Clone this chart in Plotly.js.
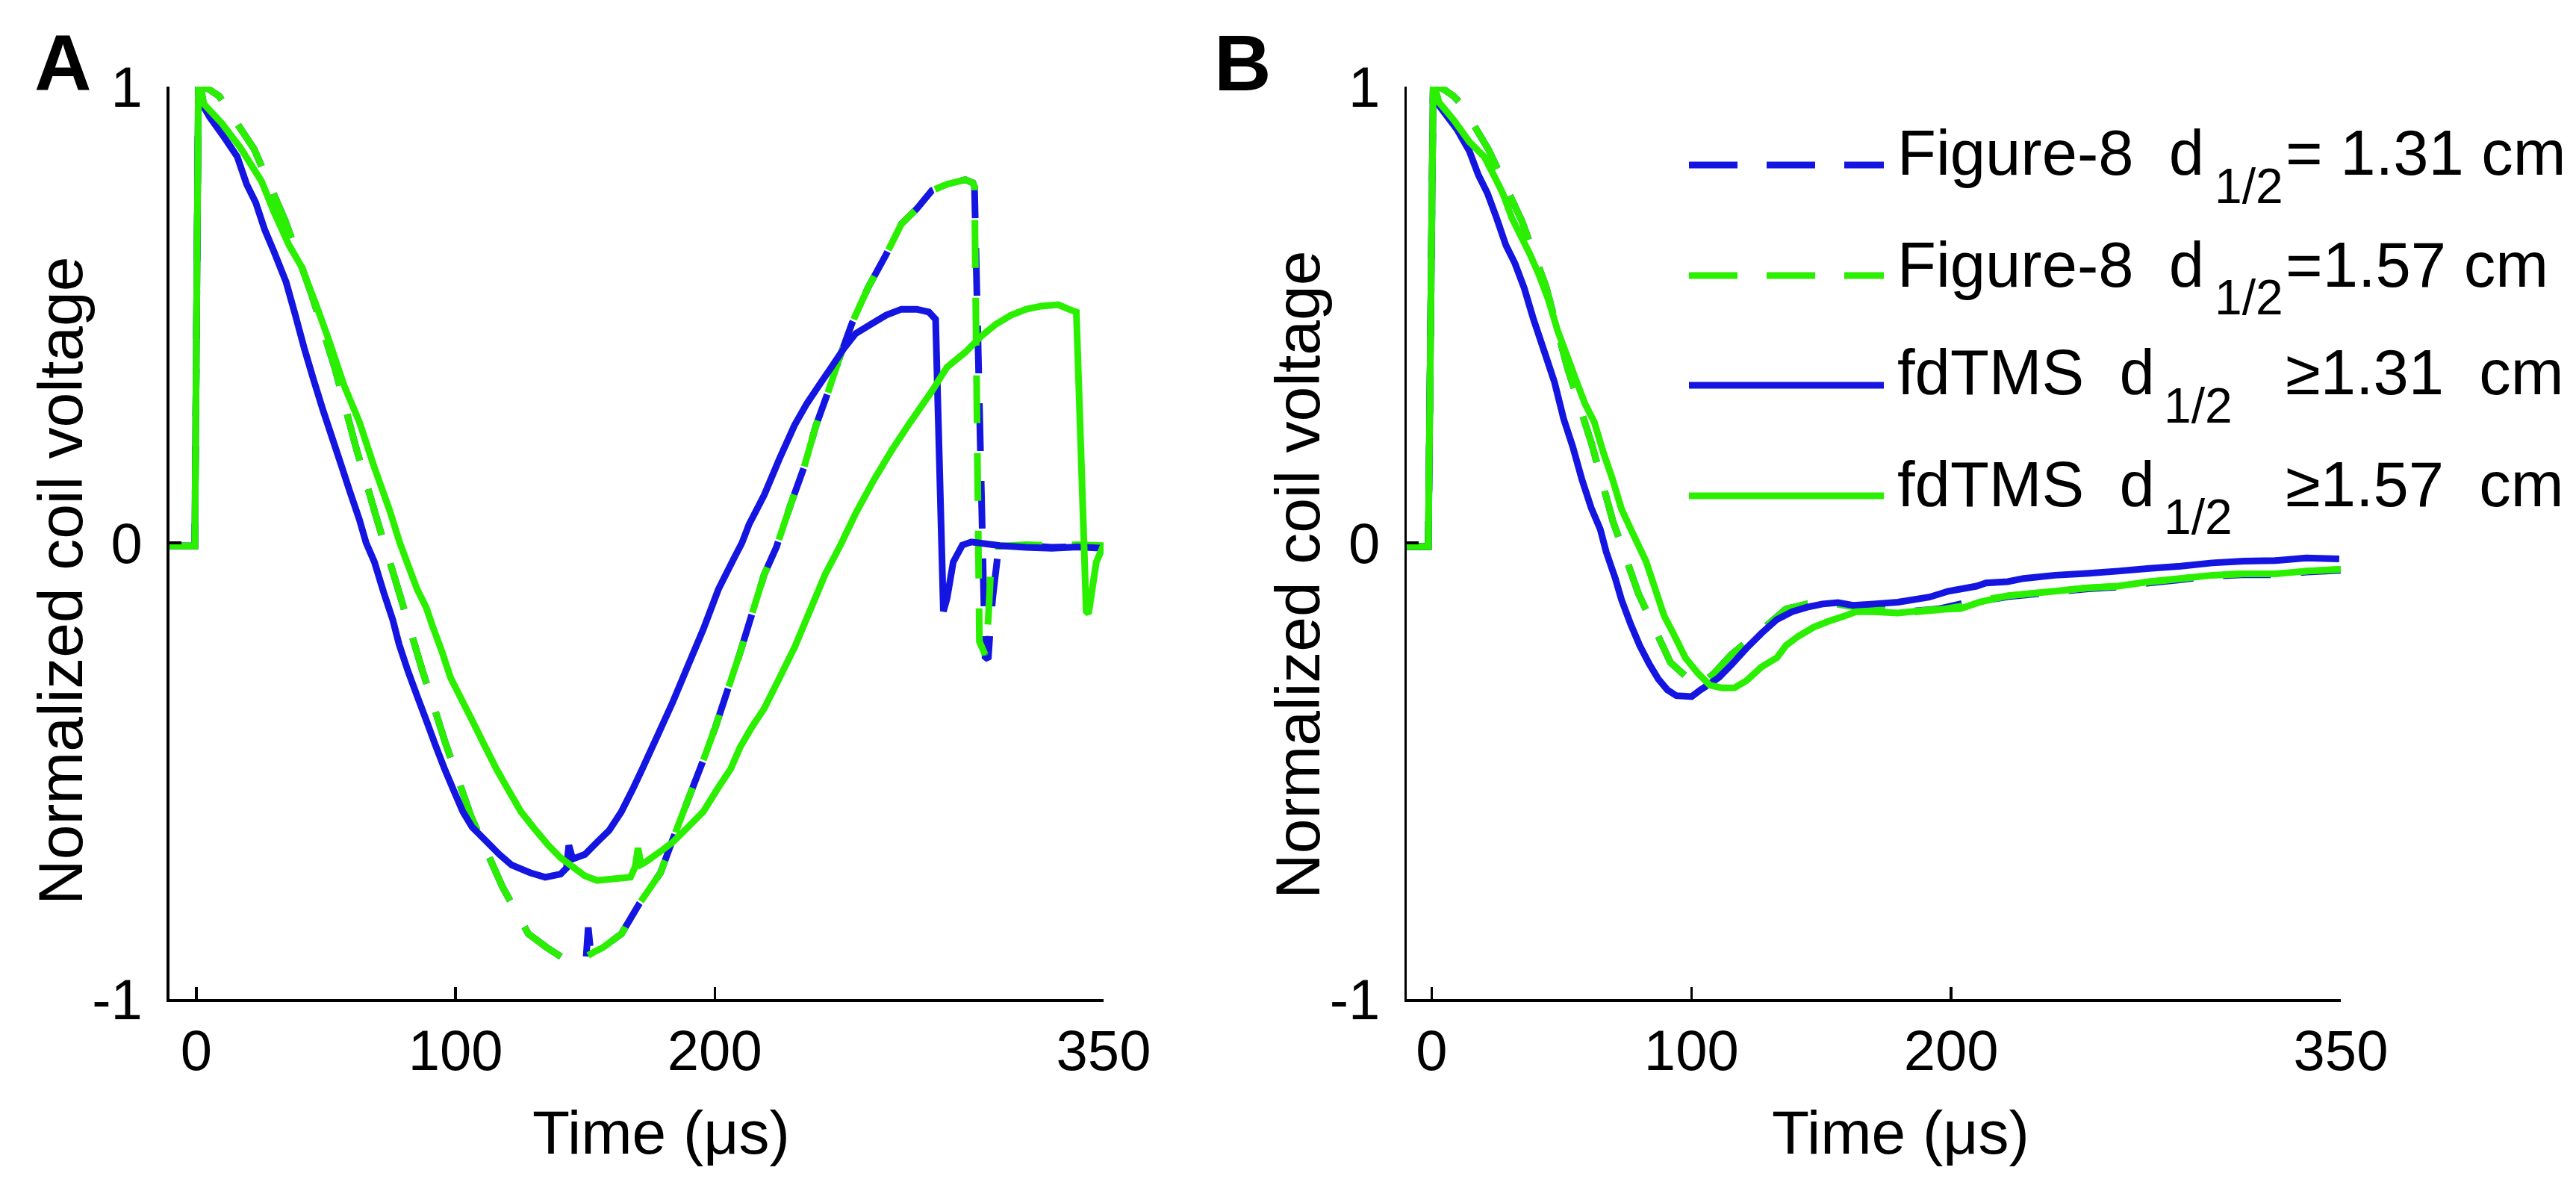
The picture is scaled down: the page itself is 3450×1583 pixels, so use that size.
<!DOCTYPE html>
<html>
<head>
<meta charset="utf-8">
<script src="https://cdn.plot.ly/plotly-3.0.1.min.js"></script>
<style>
html,body{margin:0;padding:0;background:#ffffff;}
#chart{width:3450px;height:1583px;}
</style>
</head>
<body>
<div id="chart"></div>
<script>
// ---------------- DATA ----------------
const seriesNames = [
  "Figure-8  d1/2= 1.31 cm",
  "Figure-8  d1/2=1.57 cm",
  "fdTMS  d1/2 ≥ 1.31  cm",
  "fdTMS  d1/2 ≥ 1.57  cm"
];
// legend label pieces: main text, subscript, remainder
const legendMain = ["Figure-8  d", "Figure-8  d", "fdTMS  d", "fdTMS  d"];
const legendSub = ["1/2", "1/2", "1/2", "1/2"];
const legendRest = ["= 1.31 cm", "=1.57 cm", "≥1.31  cm", "≥1.57  cm"];
const xTickVals = [0, 100, 200, 350];
const xTickText = ["0", "100", "200", "350"];
const yTickVals = [-1, 0, 1];
const yTickText = ["-1", "0", "1"];
const xTitle = "Time (μs)";
const yTitle = "Normalized coil voltage";
const panelLabels = ["A", "B"];

// Panel A — Figure-8, d1/2 = 1.31 cm (blue dashed)
const tA_fig8_131 = [-10.5, -0.6, 0.8, 1.7, 5.2, 8.8, 11.1, 22.3, 34.3, 44.6, 53.5, 61.3, 69.6, 78.4, 87.0, 96.0, 106.0, 118.1, 128.1, 135.2, 142.2, 146.5, 150.3, 151.2, 152.1, 153.4, 156.9, 164.0, 171.0, 179.1, 183.8, 189.7, 195.6, 200.3, 205.0, 209.7, 214.4, 219.1, 223.8, 229.7, 234.4, 239.1, 243.8, 248.5, 253.2, 259.1, 266.1, 272.0, 277.9, 283.7, 289.6, 296.7, 299.6, 300.2, 304.3, 305.5, 306.1, 307.2, 309.0, 310.7, 320, 330, 340, 350];
const vA_fig8_131 = [-0.007, -0.007, 1.0, 1.003, 0.993, 0.979, 0.959, 0.863, 0.706, 0.542, 0.382, 0.215, 0.053, -0.112, -0.276, -0.437, -0.600, -0.754, -0.857, -0.887, -0.913, -0.918, -0.915, -0.843, -0.895, -0.897, -0.887, -0.857, -0.790, -0.723, -0.650, -0.563, -0.476, -0.403, -0.322, -0.242, -0.155, -0.069, -0.009, 0.091, 0.165, 0.258, 0.332, 0.412, 0.485, 0.559, 0.632, 0.699, 0.732, 0.772, 0.786, 0.796, 0.789, 0.780, -0.250, -0.255, -0.203, -0.122, -0.035, -0.008, -0.006, -0.010, -0.008, -0.008];

// Panel A — Figure-8, d1/2 = 1.57 cm (green dashed)
const tA_fig8_157 = [-10.5, -0.6, 0.8, 1.7, 5.2, 8.8, 11.1, 22.3, 34.3, 44.6, 53.5, 61.3, 69.6, 78.4, 87.0, 96.0, 106.0, 118.1, 128.1, 135.2, 142.2, 147.0, 153.4, 156.9, 164.0, 171.0, 179.1, 183.8, 189.7, 195.6, 200.3, 205.0, 209.7, 214.4, 219.1, 223.8, 229.7, 234.4, 239.1, 243.8, 248.5, 253.2, 259.1, 266.1, 272.0, 277.9, 283.7, 289.6, 296.7, 299.6, 300.2, 302.1, 304.3, 305.5, 306.4, 308.2, 320, 330, 340, 350];
const vA_fig8_157 = [-0.007, -0.007, 1.0, 1.003, 0.993, 0.979, 0.959, 0.863, 0.706, 0.542, 0.382, 0.215, 0.053, -0.112, -0.276, -0.437, -0.600, -0.754, -0.857, -0.887, -0.913, -0.918, -0.897, -0.887, -0.857, -0.790, -0.723, -0.650, -0.563, -0.476, -0.403, -0.322, -0.242, -0.155, -0.069, -0.009, 0.091, 0.165, 0.258, 0.332, 0.412, 0.485, 0.559, 0.632, 0.699, 0.732, 0.772, 0.786, 0.796, 0.789, 0.780, -0.216, -0.245, -0.169, -0.069, -0.008, -0.004, -0.006, -0.004, -0.006];

// Panel A — fdTMS, d1/2 >= 1.31 cm (blue solid)
const tA_fd_131 = [-10.5, -0.6, 0.8, 1.7, 2.9, 5.2, 11.1, 15.8, 19.4, 22.9, 26.4, 29.9, 34.6, 38.2, 41.7, 45.2, 48.8, 52.3, 55.8, 59.3, 62.9, 65.5, 68.7, 72.3, 75.8, 78.2, 81.7, 85.2, 88.7, 92.2, 95.8, 99.3, 102.8, 106.4, 112.2, 116.9, 121.6, 128.7, 134.6, 140.5, 142.8, 143.7, 145.2, 149.9, 154.6, 159.3, 164.0, 168.7, 172.0, 177.9, 183.8, 189.7, 195.6, 201.4, 207.3, 210.5, 213.2, 219.1, 225.0, 230.8, 235.5, 240.2, 245.0, 249.7, 254.4, 260.2, 266.1, 272.0, 277.9, 282.6, 285.2, 288.2, 289.6, 292.0, 295.5, 299.0, 310, 320, 330, 340, 350];
const vA_fd_131 = [-0.007, -0.007, 1.0, 1.0, 0.955, 0.933, 0.886, 0.846, 0.786, 0.746, 0.686, 0.639, 0.572, 0.499, 0.425, 0.358, 0.292, 0.232, 0.172, 0.111, 0.051, 0.0, -0.042, -0.109, -0.169, -0.222, -0.282, -0.336, -0.389, -0.443, -0.496, -0.543, -0.589, -0.623, -0.656, -0.683, -0.706, -0.723, -0.733, -0.726, -0.713, -0.663, -0.693, -0.683, -0.656, -0.630, -0.589, -0.536, -0.496, -0.423, -0.349, -0.269, -0.189, -0.102, -0.035, 0.0, 0.040, 0.105, 0.185, 0.258, 0.305, 0.345, 0.385, 0.425, 0.459, 0.479, 0.499, 0.512, 0.512, 0.506, 0.490, -0.150, -0.122, -0.042, -0.005, 0.002, -0.006, -0.010, -0.012, -0.009, -0.012];

// Panel A — fdTMS, d1/2 >= 1.57 cm (green solid)
const tA_fd_157 = [-10.5, -0.6, 0.8, 1.7, 2.9, 9.9, 17.0, 25.2, 29.9, 35.8, 40.5, 46.4, 51.1, 57.0, 62.9, 68.7, 74.6, 78.5, 81.7, 85.2, 88.7, 91.1, 94.6, 98.1, 102.2, 106.4, 111.1, 115.8, 120.5, 125.2, 129.9, 135.8, 140.5, 145.2, 149.9, 154.6, 161.6, 167.5, 169.3, 170.4, 171.6, 173.2, 179.1, 183.8, 189.7, 195.6, 201.4, 206.1, 209.7, 214.4, 219.1, 225.0, 230.8, 236.7, 242.6, 248.5, 254.4, 261.4, 268.5, 275.5, 283.7, 289.6, 296.7, 302.6, 308.4, 314.3, 320.2, 326.0, 332.5, 336.6, 339.5, 343.3, 344.2, 347.2, 350.0];
const vA_fd_157 = [-0.007, -0.007, 1.0, 1.0, 0.962, 0.919, 0.866, 0.792, 0.726, 0.652, 0.606, 0.519, 0.445, 0.345, 0.265, 0.165, 0.071, 0.0, -0.049, -0.102, -0.142, -0.182, -0.236, -0.296, -0.342, -0.389, -0.443, -0.496, -0.543, -0.589, -0.623, -0.663, -0.690, -0.710, -0.730, -0.740, -0.736, -0.733, -0.710, -0.669, -0.705, -0.700, -0.676, -0.656, -0.623, -0.589, -0.536, -0.496, -0.449, -0.403, -0.363, -0.296, -0.229, -0.149, -0.069, -0.005, 0.065, 0.138, 0.205, 0.265, 0.332, 0.385, 0.418, 0.452, 0.479, 0.499, 0.512, 0.519, 0.522, 0.512, 0.506, -0.150, -0.155, -0.042, -0.005];

// Panel B — Figure-8, d1/2 = 1.31 cm (blue dashed)
const tB_fig8_131 = [-10, -1.3, 0.6, 1.6, 5.0, 8.5, 11.6, 21.9, 34.7, 44.0, 52.2, 61.6, 69.8, 79.6, 91.9, 98.9, 103.6, 108.9, 115.3, 127.0, 136.4, 144.6, 156.0, 165, 175, 185, 195, 205, 211, 222, 240, 252, 264, 276, 288, 300, 312, 325, 337, 350];
const vB_fig8_131 = [-0.008, -0.008, 1.0, 1.003, 0.993, 0.979, 0.960, 0.862, 0.706, 0.562, 0.385, 0.217, 0.047, -0.111, -0.262, -0.298, -0.311, -0.285, -0.245, -0.191, -0.145, -0.134, -0.133, -0.140, -0.145, -0.150, -0.145, -0.132, -0.128, -0.118, -0.108, -0.101, -0.097, -0.088, -0.081, -0.073, -0.070, -0.070, -0.064, -0.060];

// Panel B — Figure-8, d1/2 = 1.57 cm (green dashed)
const tB_fig8_157 = [-10, -1.3, 0.6, 1.6, 5.0, 8.5, 11.6, 21.9, 34.7, 44.0, 52.2, 61.6, 69.8, 79.6, 91.9, 98.9, 103.6, 108.9, 115.3, 127.0, 136.4, 144.6, 156.0, 165, 175, 185, 195, 205, 211, 222, 240, 252, 264, 276, 288, 300, 312, 325, 337, 350];
const vB_fig8_157 = [-0.008, -0.008, 1.0, 1.003, 0.993, 0.979, 0.960, 0.862, 0.706, 0.562, 0.385, 0.217, 0.047, -0.111, -0.262, -0.298, -0.311, -0.285, -0.245, -0.191, -0.145, -0.134, -0.135, -0.142, -0.148, -0.152, -0.147, -0.138, -0.126, -0.116, -0.106, -0.099, -0.095, -0.086, -0.079, -0.071, -0.068, -0.068, -0.062, -0.058];

// Panel B — fdTMS, d1/2 >= 1.31 cm (blue solid)
const tB_fd_131 = [-10, -1.3, 0.6, 1.2, 2.8, 9.8, 14.5, 18.0, 21.5, 25.0, 28.6, 32.1, 35.6, 39.1, 43.8, 47.3, 50.8, 54.3, 57.9, 61.4, 64.9, 67.2, 70.7, 73.1, 76.6, 80.1, 83.7, 87.2, 90.7, 94.2, 100.1, 103.6, 107.1, 110.6, 115.3, 121.2, 127.0, 132.9, 138.8, 144.6, 150.5, 156.4, 162.2, 170.2, 179.5, 191.6, 198.9, 209.8, 213.4, 221.8, 227.9, 240.0, 252.1, 264.2, 276.3, 288.4, 300.5, 312.6, 324.6, 336.7, 349.4];
const vB_fd_131 = [-0.008, -0.008, 1.0, 1.0, 0.959, 0.906, 0.859, 0.806, 0.766, 0.712, 0.652, 0.612, 0.559, 0.492, 0.412, 0.352, 0.272, 0.211, 0.138, 0.077, 0.030, -0.020, -0.078, -0.125, -0.178, -0.225, -0.265, -0.298, -0.322, -0.335, -0.337, -0.322, -0.309, -0.295, -0.268, -0.231, -0.198, -0.168, -0.151, -0.141, -0.134, -0.131, -0.137, -0.134, -0.130, -0.119, -0.106, -0.095, -0.088, -0.085, -0.078, -0.071, -0.067, -0.062, -0.056, -0.051, -0.044, -0.040, -0.039, -0.033, -0.035];

// Panel B — fdTMS, d1/2 >= 1.57 cm (green solid)
const tB_fd_157 = [-10, -1.3, 0.6, 1.2, 2.8, 8.6, 14.5, 20.3, 23.9, 27.4, 30.9, 34.4, 37.9, 41.5, 45.0, 48.5, 52.0, 55.5, 59.0, 62.6, 66.1, 69.6, 73.1, 77.8, 82.5, 86.0, 89.5, 93.0, 97.7, 102.4, 107.1, 111.8, 116.5, 121.2, 127.0, 132.9, 136.4, 141.1, 147.0, 152.8, 158.7, 163.4, 170.2, 179.5, 191.6, 203.7, 211.0, 221.8, 240.0, 252.1, 264.2, 276.3, 288.4, 300.5, 312.6, 324.6, 336.7, 349.4];
const vB_fd_157 = [-0.008, -0.008, 1.0, 1.0, 0.966, 0.926, 0.879, 0.846, 0.806, 0.766, 0.712, 0.672, 0.632, 0.585, 0.532, 0.465, 0.412, 0.358, 0.305, 0.265, 0.198, 0.140, 0.074, 0.016, -0.040, -0.100, -0.160, -0.198, -0.252, -0.285, -0.312, -0.318, -0.318, -0.302, -0.272, -0.252, -0.225, -0.205, -0.185, -0.172, -0.161, -0.151, -0.151, -0.154, -0.147, -0.144, -0.130, -0.116, -0.106, -0.099, -0.095, -0.085, -0.078, -0.071, -0.068, -0.068, -0.062, -0.058];

// ---------------- STYLE & LAYOUT ----------------
const W = 3450, H = 1583;
const px = x => x / W;
const py = y => 1 - y / H;
const FONT = "Liberation Sans, Arial, Helvetica, sans-serif";
const BLUE = "#1515e2";
const GREEN = "#2af000";
const LW = 9;
const DASH = "64px,40px";

const styles = [
  {color: BLUE, dash: DASH},
  {color: GREEN, dash: DASH},
  {color: BLUE, dash: "solid"},
  {color: GREEN, dash: "solid"}
];

function mk(t, v, i, xa, ya) {
  return {
    type: "scatter", mode: "lines", x: t, y: v, name: seriesNames[i],
    xaxis: xa, yaxis: ya, showlegend: false, hoverinfo: "skip",
    line: {color: styles[i].color, width: LW, dash: styles[i].dash, simplify: false}
  };
}

const traces = [
  mk(tA_fig8_131, vA_fig8_131, 0, "x", "y"),
  mk(tA_fig8_157, vA_fig8_157, 1, "x", "y"),
  mk(tA_fd_131, vA_fd_131, 2, "x", "y"),
  mk(tA_fd_157, vA_fd_157, 3, "x", "y"),
  mk(tB_fig8_131, vB_fig8_131, 0, "x2", "y2"),
  mk(tB_fig8_157, vB_fig8_157, 1, "x2", "y2"),
  mk(tB_fd_131, vB_fd_131, 2, "x2", "y2"),
  mk(tB_fd_157, vB_fd_157, 3, "x2", "y2")
];

const yDomain = [py(1338), py(116)];
function xAx(domain, range, anchor) {
  return {
    domain: domain, range: range, anchor: anchor,
    showline: true, linecolor: "#000", linewidth: 3.5,
    ticks: "inside", ticklen: 16, tickwidth: 3.5, tickcolor: "#000",
    tickmode: "array", tickvals: xTickVals, ticktext: xTickText,
    tickfont: {family: FONT, size: 76, color: "#000"},
    ticklabelstandoff: 0,
    showgrid: false, zeroline: false, fixedrange: true
  };
}
function yAx(anchor) {
  return {
    domain: yDomain, range: [-1, 1], anchor: anchor,
    showline: true, linecolor: "#000", linewidth: 3.5,
    ticks: "inside", ticklen: 16, tickwidth: 3.5, tickcolor: "#000",
    tickmode: "array", tickvals: yTickVals, ticktext: yTickText,
    tickfont: {family: FONT, size: 76, color: "#000"},
    ticklabelstandoff: 17,
    showgrid: false, zeroline: false, fixedrange: true
  };
}

const NB = "\u00A0";
const nb = s => s.replace(/ /g, NB);
const legendLineY = [221, 369, 516, 664];
const legendMainY = [205, 354, 499, 648];
const legendSubY = [249, 398, 543, 692];
const legendSubX = [2964, 2964, 2896, 2896];
const legendRestX = 3059;
const legendMainX = 2539;

const annotations = [];
const shapes = [];
// panel labels
annotations.push({xref: "paper", yref: "paper", x: px(44), y: py(84), xanchor: "left", yanchor: "middle",
  text: "<b>" + panelLabels[0] + "</b>", showarrow: false, font: {family: FONT, size: 106, color: "#000"}});
annotations.push({xref: "paper", yref: "paper", x: px(1624), y: py(84), xanchor: "left", yanchor: "middle",
  text: "<b>" + panelLabels[1] + "</b>", showarrow: false, font: {family: FONT, size: 106, color: "#000"}});
// axis titles
[[81, 778], [1738, 770]].forEach(p => annotations.push({xref: "paper", yref: "paper", x: px(p[0]), y: py(p[1]),
  xanchor: "center", yanchor: "middle", textangle: -90, text: yTitle, showarrow: false,
  font: {family: FONT, size: 84, color: "#000"}}));
[[885, 1516], [2545, 1516]].forEach(p => annotations.push({xref: "paper", yref: "paper", x: px(p[0]), y: py(p[1]),
  xanchor: "center", yanchor: "middle", text: xTitle, showarrow: false,
  font: {family: FONT, size: 82, color: "#000"}}));
// legend (drawn manually to reproduce long sample lines and low subscripts)
for (let i = 0; i < 4; i++) {
  shapes.push({type: "line", xref: "paper", yref: "paper",
    x0: px(2262), x1: px(2523), y0: py(legendLineY[i]), y1: py(legendLineY[i]),
    line: {color: styles[i].color, width: LW, dash: i < 2 ? "65px,39px" : "solid"}});
  annotations.push({xref: "paper", yref: "paper", x: px(legendMainX), y: py(legendMainY[i]),
    xanchor: "left", yanchor: "middle", text: nb(legendMain[i]), showarrow: false,
    font: {family: FONT, size: 85, color: "#000"}});
  annotations.push({xref: "paper", yref: "paper", x: px(legendSubX[i]), y: py(legendSubY[i]),
    xanchor: "left", yanchor: "middle", text: nb(legendSub[i]), showarrow: false,
    font: {family: FONT, size: 66, color: "#000"}});
  annotations.push({xref: "paper", yref: "paper", x: px(legendRestX), y: py(legendMainY[i]),
    xanchor: "left", yanchor: "middle", text: nb(legendRest[i]), showarrow: false,
    font: {family: FONT, size: 85, color: "#000"}});
}

const layout = {
  width: W, height: H,
  margin: {l: 0, r: 0, t: 0, b: 0, pad: 0},
  paper_bgcolor: "#ffffff", plot_bgcolor: "rgba(0,0,0,0)",
  font: {family: FONT, color: "#000"},
  showlegend: false,
  xaxis: xAx([px(226.5), px(1478)], [-10.5, 350], "y"),
  yaxis: yAx("x"),
  xaxis2: xAx([px(1884), px(3135)], [-9.6, 350], "y2"),
  yaxis2: yAx("x2"),
  annotations: annotations,
  shapes: shapes
};

Plotly.newPlot("chart", traces, layout, {staticPlot: true, displayModeBar: false});
</script>
</body>
</html>
